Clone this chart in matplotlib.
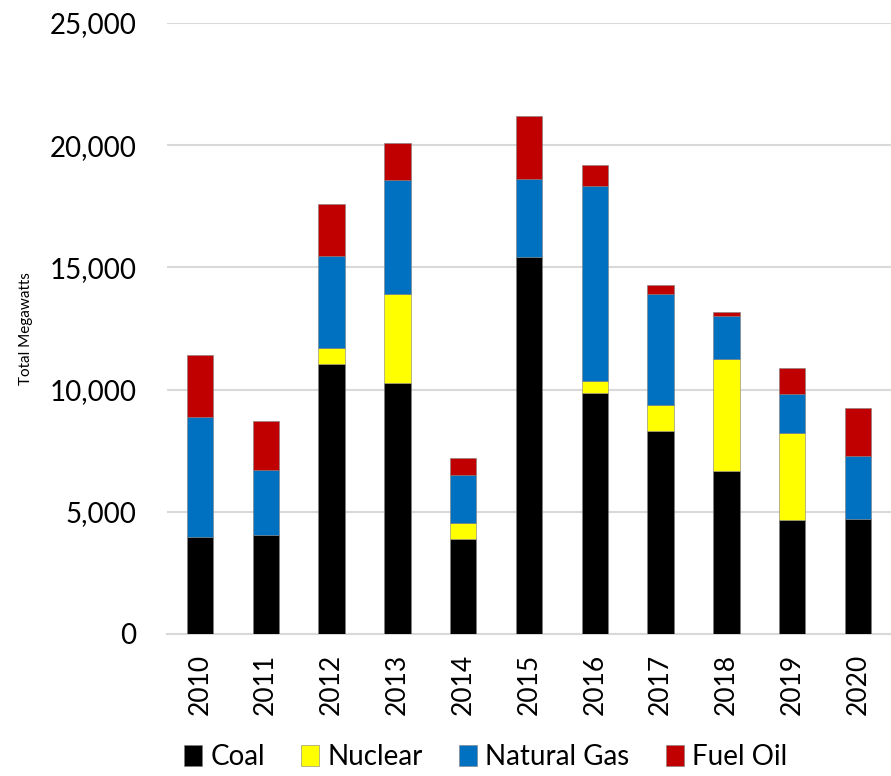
import matplotlib
matplotlib.use("Agg")
import matplotlib.pyplot as plt
from matplotlib.ticker import FuncFormatter, MultipleLocator
import numpy as np

years = ["2010", "2011", "2012", "2013", "2014", "2015", "2016", "2017", "2018", "2019", "2020"]
coal = [3970, 4065, 11040, 10280, 3895, 15430, 9860, 8325, 6655, 4655, 4710]
nuclear = [0, 0, 675, 3615, 635, 0, 490, 1055, 4610, 3575, 0]
natural_gas = [4920, 2630, 3740, 4670, 1970, 3205, 7990, 4515, 1745, 1575, 2590]
fuel_oil = [2530, 2010, 2125, 1505, 690, 2575, 830, 365, 155, 1085, 1940]

series = [("Coal", coal, "#000000"),
          ("Nuclear", nuclear, "#FFFF00"),
          ("Natural Gas", natural_gas, "#0070C0"),
          ("Fuel Oil", fuel_oil, "#C00000")]

plt.rcParams['font.family'] = ['Lato', 'DejaVu Sans']

fig = plt.figure(figsize=(8.91, 7.76), dpi=100)
ax = fig.add_axes([167/891, 1-634/776, 1-167/891, (634-23)/776])

x = np.arange(len(years))
bottom = np.zeros(len(years))
handles = []
for name, vals, col in series:
    v = np.array(vals, dtype=float)
    b = ax.bar(x, v, width=0.4, bottom=bottom, color=col, label=name,
               edgecolor="#7f7f7f", linewidth=0.4, zorder=3)
    handles.append(b)
    bottom += v

ax.set_xlim(-0.5, len(years) - 0.5)
ax.set_ylim(0, 25000)
ax.yaxis.set_major_locator(MultipleLocator(5000))
ax.yaxis.set_major_formatter(FuncFormatter(lambda v, p: f"{int(v):,}"))
ax.grid(axis="y", color="#d9d9d9", linewidth=1.5, zorder=0)
ax.set_axisbelow(True)
for s in ["top", "right", "left"]:
    ax.spines[s].set_visible(False)
ax.spines["bottom"].set_color("#d9d9d9")
ax.spines["bottom"].set_linewidth(1.5)
ax.tick_params(axis="y", length=0, labelsize=20, pad=22)
ax.tick_params(axis="x", length=0, labelsize=19, pad=14)
ax.set_xticks(x)
ax.set_xticklabels(years, rotation=90)
ax.set_ylabel("Total Megawatts", fontsize=11, labelpad=12)

fig.legend(handles=handles, labels=[s[0] for s in series], loc="lower center",
           bbox_to_anchor=(0.545, -0.025), ncol=4, frameon=False, fontsize=20,
           handlelength=0.65, handleheight=0.8, handletextpad=0.3, columnspacing=1.3)

fig.savefig("out.png", dpi=100)
